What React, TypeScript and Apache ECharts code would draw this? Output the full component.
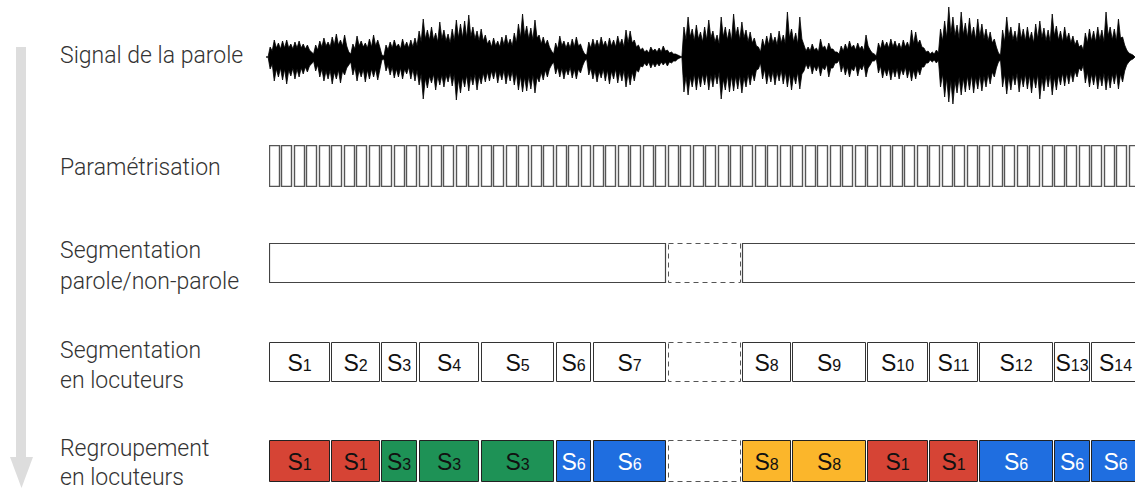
import React, { useEffect, useRef } from "react";
import * as echarts from "echarts";

// ---- Data ----
// Speech signal envelope: spike tips (above / below the centre line) per sample
const waveTop = [
  0, 10, 17, 14, 16, 17, 13, 15, 16, 13, 12, 5, 12, 16, 19, 15, 20, 23, 17, 22,
  5, 13, 21, 16, 14, 18, 22, 17, 2, 12, 15, 17, 13, 18, 15, 17, 19, 26, 38, 27,
  30, 24, 35, 27, 23, 28, 37, 33, 36, 42, 30, 26, 28, 22, 17, 19, 16, 20, 22, 18,
  24, 33, 43, 31, 29, 37, 22, 20, 17, 6, 14, 21, 16, 15, 18, 20, 13, 3, 15, 18,
  17, 20, 16, 19, 17, 21, 18, 27, 26, 17, 12, 9, 7, 10, 8, 9, 11, 7, 5, 3,
  1, 30, 40, 28, 32, 25, 30, 37, 26, 22, 40, 30, 28, 43, 30, 35, 27, 25, 19, 10,
  18, 21, 24, 20, 26, 22, 45, 28, 24, 40, 12, 10, 13, 9, 18, 11, 14, 8, 5, 11,
  13, 16, 12, 14, 11, 22, 7, 3, 14, 17, 15, 18, 16, 14, 17, 15, 27, 25, 17, 9,
  6, 5, 7, 28, 36, 50, 40, 32, 45, 34, 39, 30, 38, 33, 28, 25, 18, 4, 27, 40,
  30, 26, 34, 28, 30, 25, 33, 36, 29, 27, 43, 31, 26, 30, 24, 21, 17, 12, 24, 28,
  26, 30, 27, 45, 30, 28, 38, 20, 7, 3, 0,
];
const waveBottom = [
  0, 12, 24, 20, 23, 27, 19, 22, 20, 17, 15, 7, 14, 20, 24, 22, 27, 22, 26, 18,
  8, 18, 24, 20, 25, 22, 20, 23, 3, 14, 18, 21, 20, 22, 17, 22, 24, 28, 42, 31,
  26, 33, 28, 30, 25, 29, 43, 36, 30, 34, 28, 33, 27, 25, 24, 22, 26, 23, 27, 24,
  28, 33, 35, 34, 32, 36, 25, 23, 20, 8, 17, 20, 22, 18, 21, 22, 16, 4, 18, 22,
  25, 21, 24, 27, 22, 26, 24, 30, 28, 24, 15, 10, 9, 11, 10, 9, 8, 9, 6, 4,
  1, 35, 38, 30, 33, 30, 28, 33, 30, 27, 42, 33, 35, 34, 32, 36, 30, 28, 24, 12,
  22, 27, 25, 28, 24, 27, 30, 33, 27, 32, 14, 12, 17, 14, 19, 13, 20, 11, 6, 15,
  18, 20, 14, 19, 13, 20, 8, 4, 16, 21, 19, 23, 20, 22, 18, 21, 24, 22, 18, 10,
  6, 5, 6, 30, 40, 45, 47, 36, 38, 35, 33, 36, 32, 34, 30, 27, 20, 5, 30, 37,
  33, 28, 35, 30, 32, 36, 31, 42, 34, 30, 38, 33, 28, 29, 27, 25, 20, 14, 26, 30,
  28, 32, 29, 33, 31, 27, 32, 25, 8, 3, 0,
];
// Solid core of the signal (valleys between the spikes)
const coreTop = [
  0, 6, 9, 8, 9, 9, 8, 9, 9, 8, 7, 3, 7, 10, 11, 10, 12, 12, 11, 11,
  3, 8, 11, 10, 9, 10, 11, 10, 1, 7, 9, 10, 8, 10, 9, 10, 11, 15, 18, 17,
  17, 15, 18, 16, 14, 16, 19, 19, 19, 20, 18, 16, 16, 13, 10, 11, 10, 12, 12, 11,
  14, 19, 21, 18, 17, 19, 13, 12, 10, 3, 8, 11, 9, 9, 10, 11, 7, 2, 9, 10,
  10, 11, 9, 11, 10, 12, 10, 14, 14, 10, 7, 5, 4, 6, 5, 5, 6, 4, 3, 2,
  0, 17, 20, 16, 18, 15, 17, 19, 15, 13, 20, 17, 16, 21, 17, 19, 15, 14, 11, 5,
  10, 12, 14, 12, 14, 13, 19, 15, 13, 18, 6, 6, 7, 5, 9, 6, 8, 5, 3, 6,
  7, 9, 7, 8, 6, 11, 4, 1, 8, 10, 9, 10, 9, 8, 10, 9, 13, 13, 10, 5,
  3, 3, 4, 16, 19, 23, 21, 18, 22, 19, 20, 17, 20, 18, 16, 14, 10, 2, 15, 20,
  17, 15, 18, 16, 17, 14, 18, 19, 16, 15, 21, 17, 15, 17, 14, 12, 10, 7, 14, 16,
  15, 17, 15, 21, 17, 16, 19, 12, 4, 2, 0,
];
const coreBottom = [
  0, 7, 12, 11, 12, 13, 11, 12, 11, 10, 9, 4, 8, 12, 14, 13, 15, 13, 14, 11,
  5, 10, 13, 12, 13, 12, 12, 13, 2, 8, 10, 12, 11, 12, 10, 12, 13, 17, 21, 19,
  17, 19, 18, 18, 16, 17, 22, 20, 18, 19, 17, 19, 16, 15, 14, 13, 15, 13, 15, 14,
  16, 19, 20, 19, 18, 20, 15, 13, 12, 5, 10, 11, 12, 10, 12, 12, 9, 2, 11, 13,
  14, 12, 13, 14, 12, 14, 13, 16, 15, 13, 9, 6, 5, 6, 6, 5, 5, 5, 4, 2,
  0, 19, 20, 17, 18, 17, 16, 18, 17, 15, 22, 18, 19, 19, 18, 20, 17, 16, 13, 6,
  12, 15, 14, 15, 13, 15, 16, 18, 15, 17, 7, 7, 9, 8, 10, 7, 11, 6, 3, 8,
  10, 11, 8, 10, 7, 11, 4, 2, 9, 12, 11, 12, 11, 12, 10, 12, 13, 12, 10, 6,
  3, 3, 3, 17, 21, 23, 24, 20, 21, 19, 18, 20, 18, 19, 17, 15, 11, 3, 17, 19,
  18, 16, 19, 17, 18, 19, 17, 21, 18, 17, 20, 18, 16, 16, 15, 14, 11, 8, 15, 17,
  16, 18, 16, 18, 17, 15, 17, 14, 5, 2, 0,
];

const frameStarts = [
  0, 1, 2, 3, 4, 5, 6, 7, 8, 9, 10, 11, 12, 13, 14, 15, 16, 17, 18, 19,
  20, 21, 22, 23, 24, 25, 26, 27, 28, 29, 30, 31, 32, 33, 34, 35, 36, 37, 38, 39,
  40, 41, 42, 43, 44, 45, 46, 47, 48, 49, 50, 51, 52, 53, 54, 55, 56, 57, 58, 59,
  60, 61, 62, 63, 64, 65, 66, 67, 68, 69,
];

const speechStarts = [0, 32, 38];
const speechEnds = [32, 38, 70];
const speechIsSpeech = [true, false, true];

const segStarts = [0, 5, 9, 12, 17, 23, 26, 32, 38, 42, 48, 53, 57, 63, 66];
const segEnds = [5, 9, 12, 17, 23, 26, 32, 38, 42, 48, 53, 57, 63, 66, 70];
const segLabels = [1, 2, 3, 4, 5, 6, 7, 0, 8, 9, 10, 11, 12, 13, 14]; // 0 = non-parole
const clusterLabels = [1, 1, 3, 3, 3, 6, 6, 0, 8, 8, 1, 1, 6, 6, 6];

const clusterColors: Record<number, string> = {
  1: "#d64435",
  3: "#1e9256",
  6: "#1f6ee0",
  8: "#fbb62b",
};
const clusterTextColors: Record<number, string> = {
  1: "#111",
  3: "#111",
  6: "#fff",
  8: "#111",
};

const rowLabels: { text: string; y: number }[] = [
  { text: "Signal de la parole", y: 55 },
  { text: "Paramétrisation", y: 167 },
  { text: "Segmentation", y: 250 },
  { text: "parole/non-parole", y: 281 },
  { text: "Segmentation", y: 350 },
  { text: "en locuteurs", y: 380 },
  { text: "Regroupement", y: 448 },
  { text: "en locuteurs", y: 477 },
];

const X_MAX = 69.5;
const GAP = 2.5;

function boxSeries(
  gridIndex: number,
  starts: number[],
  ends: number[],
  styleFor: (i: number) => any,
  textFor?: (i: number) => any
) {
  return {
    type: "custom",
    xAxisIndex: gridIndex,
    yAxisIndex: gridIndex,
    clip: true,
    data: starts.map((s, i) => [s, ends[i]]),
    renderItem: (params: any, api: any) => {
      const i = params.dataIndex;
      const p0 = api.coord([api.value(0), 1]);
      const p1 = api.coord([api.value(1), 0]);
      const x0 = Math.round(p0[0]);
      const x1 = Math.round(p1[0] - GAP);
      const y0 = Math.round(p0[1]);
      const y1 = Math.round(p1[1]);
      const el: any = {
        type: "rect",
        shape: { x: x0 + 0.5, y: y0 + 0.5, width: x1 - x0, height: y1 - y0 - 1 },
        style: styleFor(i),
      };
      const t = textFor ? textFor(i) : null;
      if (t) {
        el.textContent = { style: t };
        el.textConfig = { position: "inside" };
      }
      return el;
    },
  };
}

function sLabel(n: number, fill: string) {
  return {
    text: `{s|S}{n|${n}}`,
    fill,
    rich: {
      s: { fontSize: 23, fontFamily: "Liberation Sans", fill, verticalAlign: "bottom", lineHeight: 24 },
      n: { fontSize: 16, fontFamily: "Liberation Sans", fill, verticalAlign: "bottom", lineHeight: 24, padding: [0, 0, 1, 0] },
    },
  };
}

const dashedStyle = { fill: "none", stroke: "#555", lineWidth: 1, lineDash: [5, 4] };

function interleave(tips: number[], core: number[], sign: number) {
  const out: number[][] = [];
  for (let i = 0; i < tips.length; i++) {
    out.push([i, sign * tips[i]]);
    if (i < tips.length - 1) out.push([i + 0.5, sign * core[i]]);
  }
  return out;
}

export default function App() {
  const ref = useRef<HTMLDivElement>(null);
  useEffect(() => {
    if (!ref.current) return;
    const chart = echarts.init(ref.current, undefined, { renderer: "svg" });
    const rowGrids = [
      { top: 145, height: 42 },
      { top: 243, height: 40 },
      { top: 342, height: 40 },
      { top: 440, height: 42 },
    ];
    const grids: any[] = [{ left: 266, right: 0, top: 5, height: 104 }].concat(
      rowGrids.map((g) => ({ left: 269, right: 0, top: g.top, height: g.height }))
    );
    const xAxes: any[] = [
      { gridIndex: 0, type: "value", min: 0, max: waveTop.length - 1, show: false },
    ].concat(
      rowGrids.map((_, k) => ({ gridIndex: k + 1, type: "value", min: 0, max: X_MAX, show: false }))
    );
    const yAxes: any[] = [{ gridIndex: 0, type: "value", min: -52, max: 52, show: false }].concat(
      rowGrids.map((_, k) => ({ gridIndex: k + 1, type: "value", min: 0, max: 1, show: false }))
    );

    const waveSeries = (data: number[][]) => ({
      type: "line",
      xAxisIndex: 0,
      yAxisIndex: 0,
      data,
      symbol: "none",
      lineStyle: { color: "#000", width: 0.8 },
      areaStyle: { color: "#000", opacity: 1 },
    });

    const option: any = {
      animation: false,
      grid: grids,
      xAxis: xAxes,
      yAxis: yAxes,
      series: [
        waveSeries(interleave(waveTop, coreTop, 1)),
        waveSeries(interleave(waveBottom, coreBottom, -1)),
        boxSeries(1, frameStarts, frameStarts.map((s) => s + 1), () => ({
          fill: "#fff",
          stroke: "#555",
          lineWidth: 1.4,
        })),
        boxSeries(2, speechStarts, speechEnds, (i) =>
          speechIsSpeech[i] ? { fill: "#fff", stroke: "#444", lineWidth: 1.2 } : dashedStyle
        ),
        boxSeries(
          3,
          segStarts,
          segEnds,
          (i) => (segLabels[i] ? { fill: "#fff", stroke: "#333", lineWidth: 1 } : dashedStyle),
          (i) => (segLabels[i] ? sLabel(segLabels[i], "#111") : null)
        ),
        boxSeries(
          4,
          segStarts,
          segEnds,
          (i) =>
            clusterLabels[i]
              ? { fill: clusterColors[clusterLabels[i]], stroke: "#222", lineWidth: 1 }
              : dashedStyle,
          (i) =>
            clusterLabels[i] ? sLabel(clusterLabels[i], clusterTextColors[clusterLabels[i]]) : null
        ),
      ],
      graphic: [
        { type: "rect", shape: { x: 16, y: 47, width: 10, height: 411 }, style: { fill: "#dddddd" } },
        {
          type: "polygon",
          shape: { points: [[10, 457], [33, 457], [21.5, 488]] },
          style: { fill: "#dddddd" },
        },
        ...rowLabels.map((l) => ({
          type: "text",
          x: 60,
          y: l.y,
          style: {
            text: l.text,
            fill: "#333",
            font: "300 23px Roboto",
            lineHeight: 20,
            textAlign: "left",
            textVerticalAlign: "middle",
            verticalAlign: "middle",
          },
        })),
      ],
    };
    chart.setOption(option);
    return () => chart.dispose();
  }, []);
  return (
    <div
      ref={ref}
      style={{ position: "absolute", left: 0, top: 0, width: 1135, height: 489, background: "#fff" }}
    />
  );
}
